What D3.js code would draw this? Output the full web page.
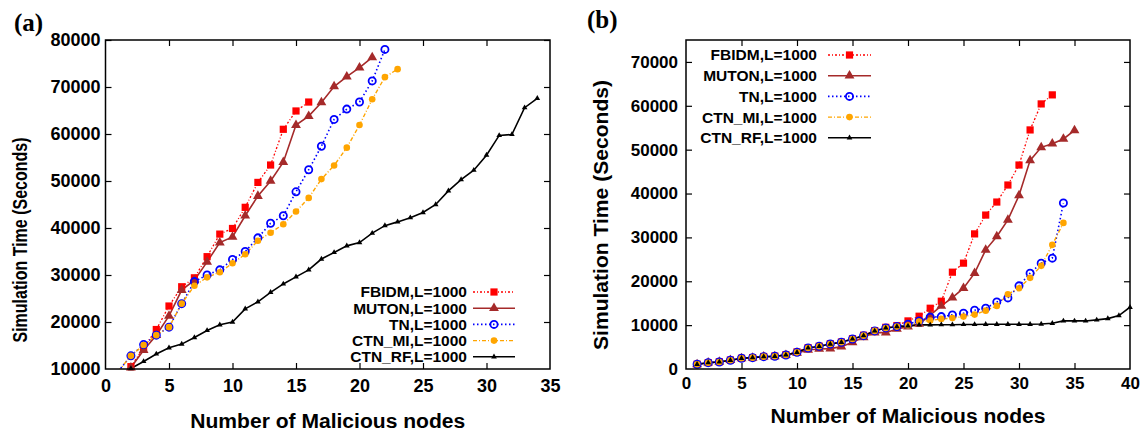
<!DOCTYPE html>
<html>
<head>
<meta charset="utf-8">
<script src="https://cdn.jsdelivr.net/npm/d3@7"></script>
<style>
  html, body { margin: 0; padding: 0; background: #fff; }
  svg { display: block; }
  text { font-family: "Liberation Sans", Arial, sans-serif; font-weight: bold; fill: #000; }
</style>
</head>
<body>
<svg id="chart" width="1147" height="434"></svg>
<script>
// ---------- Panel (a): simulation time vs number of malicious nodes ----------
const aFbidmX = [2,3,4,5,6,7,8,9,10,11,12,13,14,15,16];
const aFbidm  = [10500,14500,18400,23400,27500,29400,33900,38700,39900,44400,49700,53400,61000,64900,66800];
const aMutonX = [2,3,4,5,6,7,8,9,10,11,12,13,14,15,16,17,18,19,20,21];
const aMuton  = [10300,14000,17200,21300,26800,28900,32800,36900,38100,42600,46800,50000,54000,61900,63800,66700,70100,72200,74100,76300];
const aTnX    = [1,2,3,4,5,6,7,8,9,10,11,12,13,14,15,16,17,18,19,20,21,22];
const aTn     = [9500,12800,15200,17200,18900,23900,28600,30000,31100,33300,35000,37900,41000,42600,47700,52400,57400,63100,65300,66800,71300,78000];
const aMiX    = [1,2,3,4,5,6,7,8,9,10,11,12,13,14,15,16,17,18,19,20,21,22,23];
const aMi     = [9500,12800,15100,17200,18900,23900,27700,29500,30600,32500,34400,37300,39000,40800,43500,46400,50400,53300,57100,61900,67400,72100,73800];
const aRfX    = [2,3,4,5,6,7,8,9,10,11,12,13,14,15,16,17,18,19,20,21,22,23,24,25,26,27,28,29,30,31,32,33,34];
const aRf     = [10100,11600,13200,14500,15300,16700,18200,19400,20000,22800,24300,26300,28100,29600,31100,33400,34800,36200,36900,38900,40500,41300,42200,43300,45000,47900,50300,52300,55500,59700,59900,65600,67600];
const aXTicks = [0,5,10,15,20,25,30,35];
const aYTicks = [10000,20000,30000,40000,50000,60000,70000,80000];

// ---------- Panel (b) ----------
const bFbidmX = [1,2,3,4,5,6,7,8,9,10,11,12,13,14,15,16,17,18,19,20,21,22,23,24,25,26,27,28,29,30,31,32,33];
const bFbidm  = [1100,1450,1650,2050,2450,2600,2850,2950,3250,3900,4850,5200,5750,6150,6900,7700,8750,9500,9900,10960,12030,13850,15450,22070,24130,30800,35090,38060,41940,46500,54500,60430,62490];
const bMutonX = [1,2,3,4,5,6,7,8,9,10,11,12,13,14,15,16,17,18,19,20,21,22,23,24,25,26,27,28,29,30,31,32,33,34,35];
const bMuton  = [1050,1420,1620,2000,2400,2550,2800,2850,3150,3650,4340,4570,4640,5100,6090,7230,8290,8290,9130,9660,10270,12300,14380,16280,18420,21850,27170,30200,34000,39570,47560,50530,51370,52440,54410];
const bTnX    = [1,2,3,4,5,6,7,8,9,10,11,12,13,14,15,16,17,18,19,20,21,22,23,24,25,26,27,28,29,30,31,32,33,34];
const bTn     = [1070,1440,1600,1990,2440,2590,2810,2890,3200,3800,4800,5170,5700,6090,6850,7600,8680,9360,9700,10200,10960,11800,11950,12330,12710,13400,13850,15300,16210,18950,21850,24130,25270,37830];
const bMiX    = [1,2,3,4,5,6,7,8,9,10,11,12,13,14,15,16,17,18,19,20,21,22,23,24,25,26,27,28,29,30,31,32,33,34];
const bMi     = [1070,1440,1600,1990,2440,2590,2810,2890,3200,3800,4800,5170,5700,6090,6850,7600,8680,9360,9660,9900,10800,11030,11420,11600,11950,12400,13300,14380,17050,18420,20780,23520,28300,33300];
const bRfX    = [1,2,3,4,5,6,7,8,9,10,11,12,13,14,15,16,17,18,19,20,21,22,23,24,25,26,27,28,29,30,31,32,33,34,35,36,37,38,39,40];
const bRf     = [1070,1440,1600,1990,2440,2590,2810,2890,3200,3800,4800,5170,5700,6090,6850,7600,8680,9360,9660,9820,10050,10050,10100,10100,10150,10150,10200,10200,10200,10200,10200,10250,10430,10960,10960,10960,11190,11490,12170,14080];
const bXTicks = [0,5,10,15,20,25,30,35,40];
const bYTicks = [0,10000,20000,30000,40000,50000,60000,70000];

const seriesNames = ["FBIDM,L=1000","MUTON,L=1000","TN,L=1000","CTN_MI,L=1000","CTN_RF,L=1000"];

// line and marker style per series
const styles = [
  { color: "#ff0000", width: 1.3, dash: "2,2,1,2", marker: "square" },
  { color: "#a52a2a", width: 1.6, dash: null,      marker: "triangle" },
  { color: "#0000ff", width: 1.6, dash: "1.5,2.5", marker: "ring" },
  { color: "#ffa500", width: 1.4, dash: "4,2,1,2", marker: "dot" },
  { color: "#000000", width: 1.6, dash: null,      marker: "smalltri" }
];

const svg = d3.select("#chart");

function drawMarker(g, kind, color, cx, cy) {
  if (kind === "square") {
    g.append("rect").attr("x", cx - 3.6).attr("y", cy - 3.6).attr("width", 7.2).attr("height", 7.2).attr("fill", color);
  } else if (kind === "triangle") {
    g.append("path").attr("d", d3.symbol(d3.symbolTriangle, 42)()).attr("transform", `translate(${cx},${cy})`).attr("fill", color);
  } else if (kind === "ring") {
    g.append("circle").attr("cx", cx).attr("cy", cy).attr("r", 3.6).attr("fill", "none").attr("stroke", color).attr("stroke-width", 1.8);
  } else if (kind === "dot") {
    g.append("circle").attr("cx", cx).attr("cy", cy).attr("r", 3.3).attr("fill", color);
  } else {
    g.append("path").attr("d", d3.symbol(d3.symbolTriangle, 14)()).attr("transform", `translate(${cx},${cy})`).attr("fill", color);
  }
}

function panel(cfg) {
  const { id, left, right, top, bottom, xDomain, yDomain, xTicks, yTicks, series, legend } = cfg;
  const x = d3.scaleLinear().domain(xDomain).range([left, right]);
  const y = d3.scaleLinear().domain(yDomain).range([bottom, top]);
  const g = svg.append("g");

  g.append("clipPath").attr("id", "clip-" + id)
    .append("rect").attr("x", left).attr("y", top).attr("width", right - left).attr("height", bottom - top);

  // axes with inward ticks on all four sides
  const axB = g.append("g").attr("transform", `translate(0,${bottom})`)
    .call(d3.axisBottom(x).tickValues(xTicks).tickSize(-6).tickPadding(cfg.xPad).tickFormat(d3.format("d")));
  const axT = g.append("g").attr("transform", `translate(0,${top})`)
    .call(d3.axisTop(x).tickValues(xTicks).tickSize(-6).tickFormat(""));
  const axL = g.append("g").attr("transform", `translate(${left},0)`)
    .call(d3.axisLeft(y).tickValues(yTicks).tickSize(-6).tickPadding(cfg.yPad).tickFormat(d3.format("d")));
  const axR = g.append("g").attr("transform", `translate(${right},0)`)
    .call(d3.axisRight(y).tickValues(yTicks).tickSize(-6).tickFormat(""));
  [axB, axT, axL, axR].forEach(a => {
    a.select(".domain").remove();
    a.selectAll(".tick line").attr("stroke", "#000").attr("stroke-width", 1.2);
    a.selectAll("text").attr("font-size", cfg.tickFont).attr("font-weight", "bold")
      .attr("font-family", "Liberation Sans, Arial, sans-serif").attr("fill", "#000");
  });
  axB.selectAll(".tick").filter(d => d === xDomain[0] || d === xDomain[1]).select("line").remove();
  axT.selectAll(".tick").filter(d => d === xDomain[0] || d === xDomain[1]).select("line").remove();
  axL.selectAll(".tick").filter(d => d === yDomain[0]).select("line").remove();
  axR.selectAll(".tick").filter(d => d === yDomain[0]).select("line").remove();

  // series lines and markers
  const plot = g.append("g").attr("clip-path", `url(#clip-${id})`);
  series.forEach((s, i) => {
    const st = styles[i];
    const pts = s.xs.map((xv, k) => [xv, s.ys[k]]);
    plot.append("path")
      .attr("d", d3.line().x(d => x(d[0])).y(d => y(d[1]))(pts))
      .attr("fill", "none").attr("stroke", st.color).attr("stroke-width", st.width)
      .attr("stroke-dasharray", st.dash);
    const mk = g.append("g");
    pts.filter(d => d[1] >= yDomain[0] && d[1] <= yDomain[1])
      .forEach(d => drawMarker(mk, st.marker, st.color, x(d[0]), y(d[1])));
  });

  // frame
  g.append("rect").attr("x", left).attr("y", top).attr("width", right - left).attr("height", bottom - top)
    .attr("fill", "none").attr("stroke", "#000").attr("stroke-width", 1.5);

  // legend
  seriesNames.forEach((name, i) => {
    const st = styles[i];
    const ly = legend.y0 + i * legend.dy;
    g.append("text").attr("x", legend.textRight).attr("y", ly).attr("dy", "0.35em")
      .attr("text-anchor", "end").attr("font-size", legend.font).text(name);
    g.append("line").attr("x1", legend.x1).attr("x2", legend.x2).attr("y1", ly).attr("y2", ly)
      .attr("stroke", st.color).attr("stroke-width", st.width).attr("stroke-dasharray", st.dash);
    drawMarker(g, st.marker, st.color, (legend.x1 + legend.x2) / 2, ly);
  });

  // axis titles and panel tag
  g.append("text").attr("x", (left + right) / 2).attr("y", cfg.xTitleY).attr("text-anchor", "middle")
    .attr("font-size", 20).attr("textLength", 275).attr("lengthAdjust", "spacingAndGlyphs")
    .text("Number of Malicious nodes");
  g.append("text").attr("transform", `translate(${cfg.yTitleX},${cfg.yTitleCY}) rotate(-90)`)
    .attr("text-anchor", "middle").attr("dy", "0.35em").attr("font-size", 20)
    .attr("textLength", cfg.yTitleLen).attr("lengthAdjust", "spacingAndGlyphs")
    .text("Simulation Time (Seconds)");
  g.append("text").attr("x", cfg.tagX).attr("y", cfg.tagY)
    .attr("font-size", 25).style("font-family", "Liberation Serif, serif").text(cfg.tag);
}

panel({
  id: "a", left: 105.5, right: 550, top: 40, bottom: 369,
  xDomain: [0, 35], yDomain: [10000, 80000], xTicks: aXTicks, yTicks: aYTicks,
  tickFont: 18, xPad: 10, yPad: 5,
  series: [
    { xs: aFbidmX, ys: aFbidm }, { xs: aMutonX, ys: aMuton }, { xs: aTnX, ys: aTn },
    { xs: aMiX, ys: aMi }, { xs: aRfX, ys: aRf }
  ],
  legend: { textRight: 467, x1: 473, x2: 515, y0: 292, dy: 16.2, font: 15.5 },
  xTitleY: 428, yTitleX: 20, yTitleCY: 240, yTitleLen: 205,
  tag: "(a)", tagX: 14, tagY: 31
});

panel({
  id: "b", left: 686, right: 1130, top: 40, bottom: 369,
  xDomain: [0, 40], yDomain: [0, 75000], xTicks: bXTicks, yTicks: bYTicks,
  tickFont: 17, xPad: 8, yPad: 8,
  series: [
    { xs: bFbidmX, ys: bFbidm }, { xs: bMutonX, ys: bMuton }, { xs: bTnX, ys: bTn },
    { xs: bMiX, ys: bMi }, { xs: bRfX, ys: bRf }
  ],
  legend: { textRight: 817, x1: 828, x2: 871, y0: 55, dy: 20.7, font: 15.5 },
  xTitleY: 423, yTitleX: 601, yTitleCY: 215, yTitleLen: 270,
  tag: "(b)", tagX: 587, tagY: 28
});
</script>
</body>
</html>
